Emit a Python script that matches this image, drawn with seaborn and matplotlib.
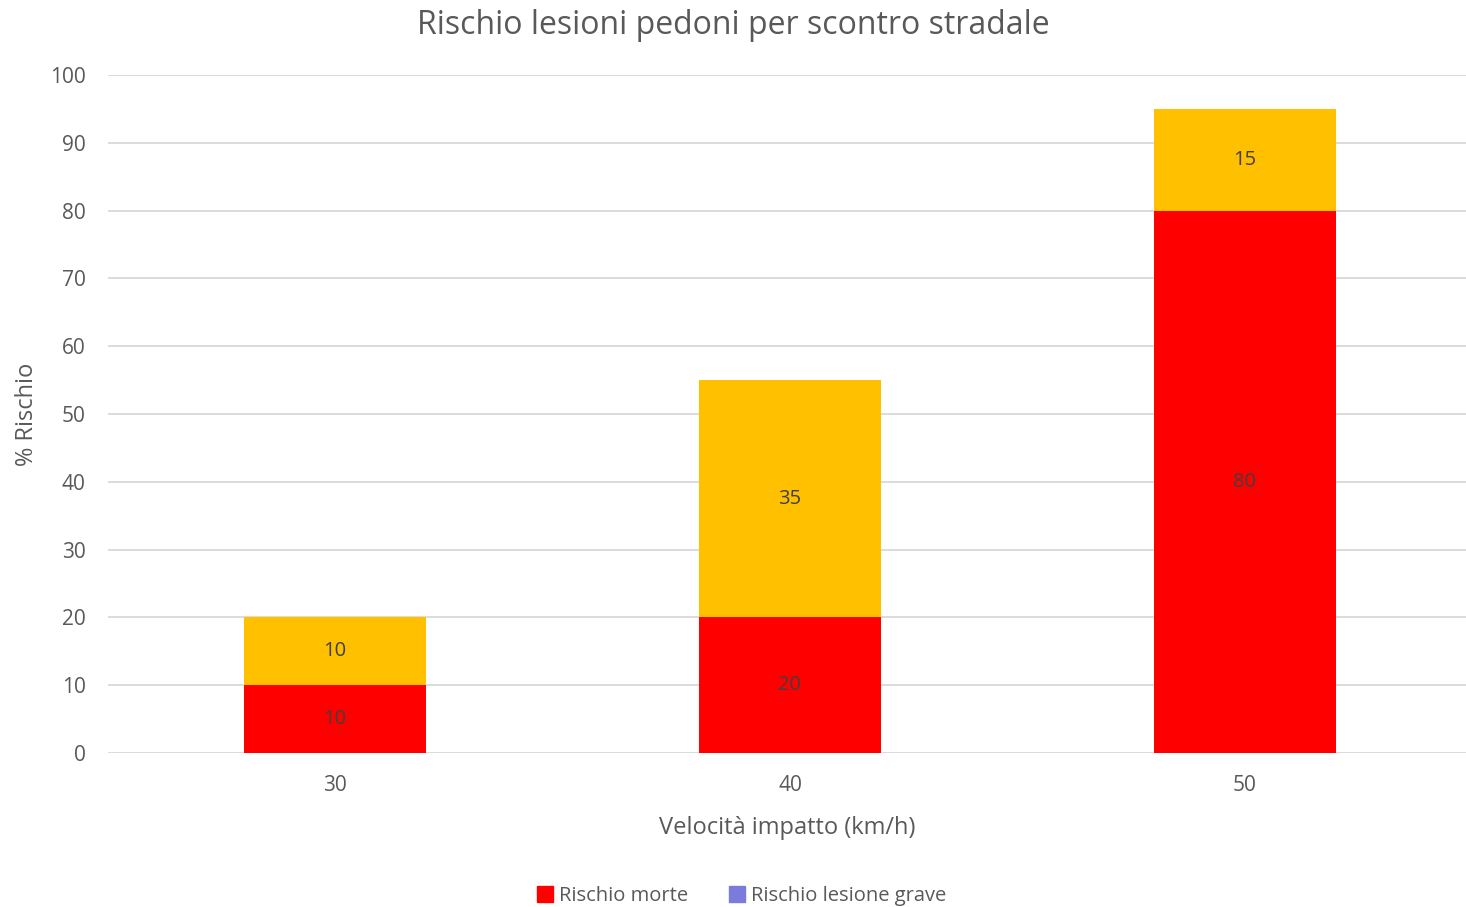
import matplotlib
matplotlib.use('Agg')
import matplotlib.pyplot as plt
import pandas as pd
import seaborn as sns
from matplotlib.patches import Patch

speeds = ['30', '40', '50']
rischio_morte = [10, 20, 80]
rischio_grave = [10, 35, 15]

sns.set_theme(style='white')
plt.rcParams['font.family'] = ['Open Sans', 'DejaVu Sans']

df = pd.DataFrame({'speed': speeds, 'morte': rischio_morte, 'grave': rischio_grave})
df['totale'] = df['morte'] + df['grave']

text_col = '#595959'
fig = plt.figure(figsize=(14.66, 9.07), dpi=100)
ax = fig.add_axes([0.0737, 0.1698, 0.9263, 0.7475])

# stacked: total in yellow, then death share in red on top of it
sns.barplot(data=df, x='speed', y='totale', color='#FFC000', saturation=1,
            width=0.4, linewidth=0, ax=ax, zorder=2)
sns.barplot(data=df, x='speed', y='morte', color='#FF0000', saturation=1,
            width=0.4, linewidth=0, ax=ax, zorder=3)

for i, row in df.iterrows():
    ax.text(i, row['morte'] / 2, str(row['morte']), ha='center', va='center',
            fontsize=14.5, color='#404040', zorder=4)
    ax.text(i, row['morte'] + row['grave'] / 2, str(row['grave']), ha='center',
            va='center', fontsize=14.5, color='#404040', zorder=4)

ax.set_ylim(0, 100)
ax.set_xlim(-0.499, 2.486)
ax.set_yticks(range(0, 101, 10))
ax.yaxis.grid(True, color='#D9D9D9', linewidth=1.3, zorder=0)
ax.set_axisbelow(True)
for s in ['top', 'right', 'left', 'bottom']:
    ax.spines[s].set_visible(False)
ax.tick_params(axis='y', length=0, labelsize=15, labelcolor=text_col, pad=16)
ax.tick_params(axis='x', length=0, labelsize=15, labelcolor=text_col, pad=16)

ax.set_xlabel('Velocità impatto (km/h)', fontsize=17, color=text_col, labelpad=14)
ax.set_ylabel('% Rischio', fontsize=17, color=text_col, labelpad=8)
fig.suptitle('Rischio lesioni pedoni per scontro stradale', fontsize=23,
             color=text_col, y=0.99)

handles = [Patch(color='#FF0000', label='Rischio morte'),
           Patch(color='#7B7BDB', label='Rischio lesione grave')]
fig.legend(handles=handles, loc='lower center', bbox_to_anchor=(0.506, -0.019),
           ncol=2, frameon=False, fontsize=14.5, labelcolor=text_col,
           handlelength=0.8, handleheight=0.8, handletextpad=0.3, columnspacing=2)

fig.savefig('out.png', dpi=100)
